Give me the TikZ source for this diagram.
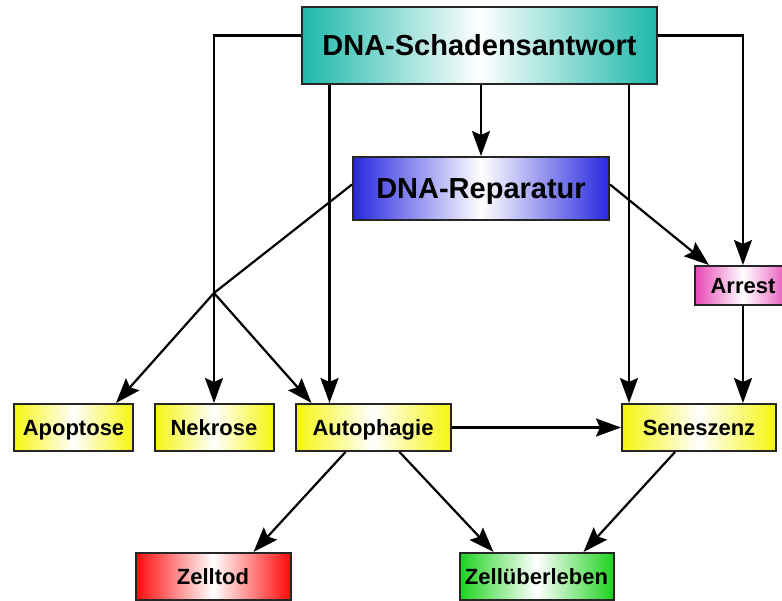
\documentclass[tikz,border=0pt]{standalone}
\usepackage{fontspec}
\setmainfont{Liberation Sans}
\usetikzlibrary{arrows.meta}

\definecolor{tealc}{RGB}{29,184,170}
\definecolor{bluec}{RGB}{40,40,225}
\definecolor{pinkc}{RGB}{230,70,180}
\definecolor{yellowc}{RGB}{245,245,15}
\definecolor{redc}{RGB}{255,10,10}
\definecolor{greenc}{RGB}{30,210,30}

\tikzset{
  box/.style={draw=black!85, line width=2pt, inner sep=0pt, text height=15.8pt, text depth=0pt,
    font=\bfseries\fontsize{22}{24}\selectfont},
  bigbox/.style={box, text height=20.8pt, font=\bfseries\fontsize{29}{32}\selectfont},
  shade with/.style={left color=#1, right color=#1, middle color=white},
  arrow/.style={line width=2.2pt, -{Stealth[length=25pt,width=18pt,inset=4pt]}}
}

\begin{document}
\begin{tikzpicture}[x=1pt,y=-1pt]
\useasboundingbox (0,0) rectangle (782,600);
% boxes
\node[bigbox, shade with=tealc, minimum width=355pt, minimum height=77pt] (dsa) at (479.5,45.5) {DNA-Schadensantwort};
\node[bigbox, shade with=bluec, minimum width=256pt, minimum height=63pt] (rep) at (481,188.5) {DNA-Reparatur};
\node[box, shade with=pinkc, minimum width=96pt, minimum height=39pt] (arr) at (743,285.5) {Arrest};
\node[box, shade with=yellowc, minimum width=119pt, minimum height=47pt] (apo) at (73.5,427.5) {Apoptose};
\node[box, shade with=yellowc, minimum width=119pt, minimum height=47pt] (nek) at (214,427.5) {Nekrose};
\node[box, shade with=yellowc, minimum width=155pt, minimum height=47pt] (aut) at (373,427.5) {Autophagie};
\node[box, shade with=yellowc, minimum width=154pt, minimum height=47pt] (sen) at (699,427.5) {Seneszenz};
\node[box, shade with=redc, minimum width=155pt, minimum height=47pt] (tod) at (213,576.5) {Zelltod};
\node[box, shade with=greenc, minimum width=154pt, minimum height=47pt] (ueb) at (536.5,576.5) {Zellüberleben};

% helper points
\coordinate (kn) at (214,293); % crossing of the repair lines
\coordinate (a1) at ([xshift=35pt]aut.north west);
\coordinate (s1) at ([xshift=8pt]sen.north west);

% from the damage response
\draw[arrow] ([yshift=10pt]dsa.west) -| (nek.north);
\draw[arrow] ([yshift=10pt]dsa.east) -| (arr.north);
\draw[arrow] (dsa.south -| a1) -- (a1);
\draw[arrow] (dsa.south -| rep.north) -- (rep.north);
\draw[arrow] (dsa.south -| s1) -- (s1);

% from the repair
\draw[line width=2.2pt] ([yshift=4pt]rep.west) -- (kn);
\draw[arrow] (kn) -- ([xshift=-18pt]apo.north east);
\draw[arrow] (kn) -- ([xshift=17pt]aut.north west);
\draw[arrow] ([yshift=4pt]rep.east) -- ([xshift=15pt]arr.north west);
\draw[arrow] (arr.south) -- (arr.south |- sen.north);

% outcomes
\draw[arrow] (aut.east) -- (sen.west);
\draw[arrow] ([xshift=51pt]aut.south west) -- ([xshift=-38pt]tod.north east);
\draw[arrow] ([xshift=105pt]aut.south west) -- ([xshift=35pt]ueb.north west);
\draw[arrow] ([xshift=54pt]sen.south west) -- ([xshift=-31pt]ueb.north east);
\end{tikzpicture}
\end{document}
